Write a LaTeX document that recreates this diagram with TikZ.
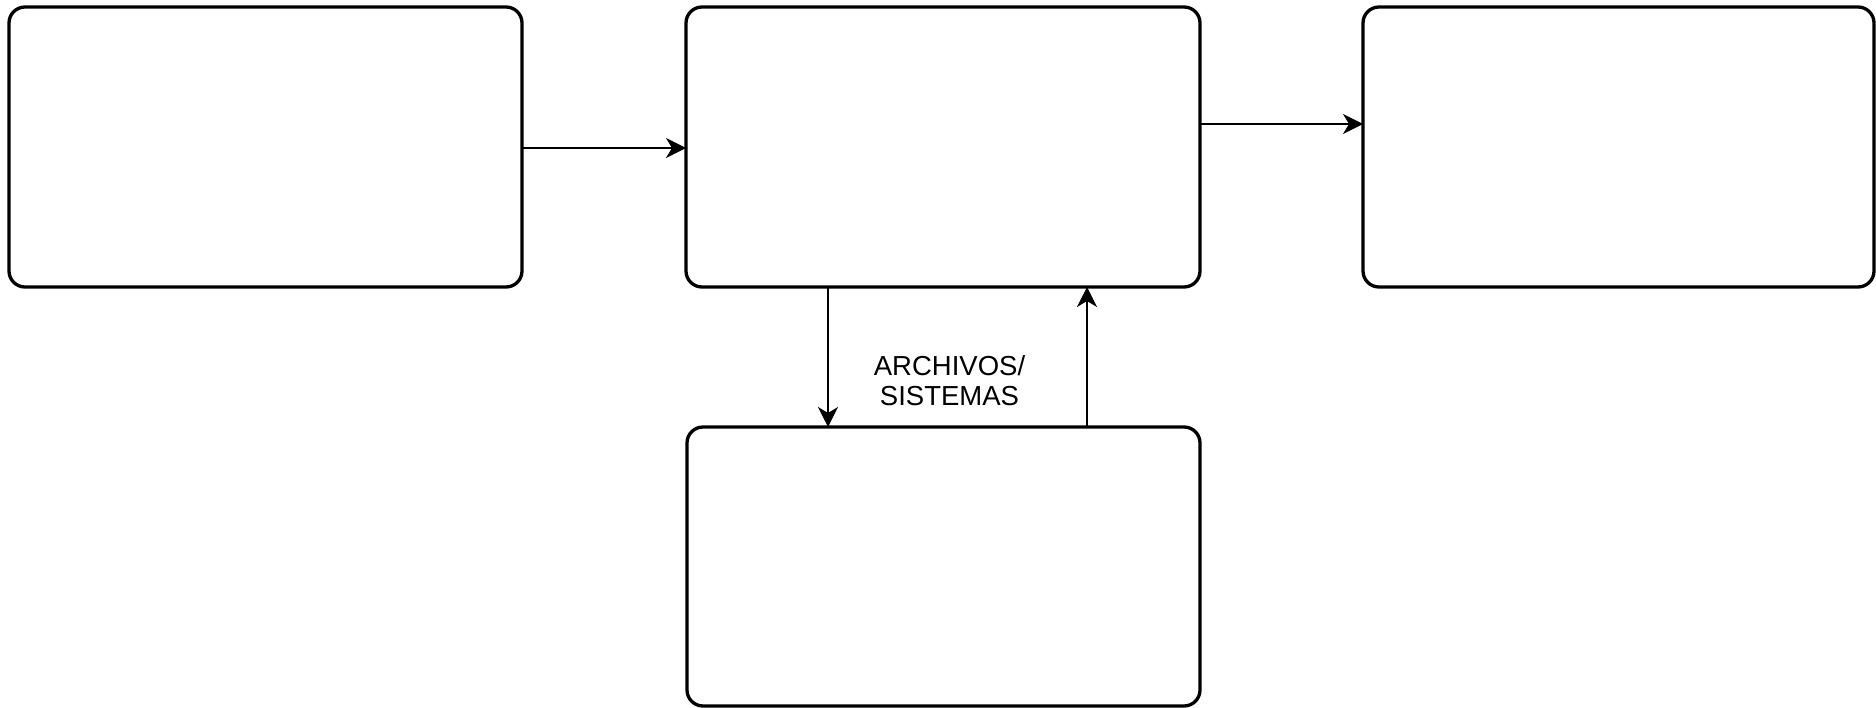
\documentclass[tikz,border=0pt]{standalone}
\usepackage{fontspec}
\setmainfont{Liberation Sans}
\usetikzlibrary{arrows.meta}
\begin{document}
\begin{tikzpicture}[x=1pt,y=-1pt,
  panel/.style={draw=black,line width=3.3pt,rounded corners=16pt,rectangle,
    minimum height=280pt,inner sep=0pt,outer sep=0pt},
  flow/.style={draw=black,line width=2pt,
    -{Stealth[length=20pt,width=20pt,inset=6pt]}}]
  \useasboundingbox (0,0) rectangle (1876,708);
  % four panels
  \node[panel,minimum width=513pt] (src) at (265.5,147) {};
  \node[panel,minimum width=514pt] (proc) at (943,147) {};
  \node[panel,minimum width=511pt] (out) at (1618.5,147) {};
  \node[panel,minimum width=513pt,minimum height=279pt] (store) at (943.5,566.5) {};
  % connectors
  \draw[flow] (src.east |- 0,148) -- (proc.west |- 0,148);
  \coordinate (pe) at ([yshift=23pt]proc.east);
  \draw[flow] (pe) -- (pe -| out.west);
  \coordinate (dn) at ([xshift=142pt]proc.south west);
  \draw[flow] (dn) -- (dn |- store.north);
  \coordinate (up) at ([xshift=400pt]store.north west);
  \draw[flow] (up) -- (up |- proc.south);
  % label between the middle panels
  \node[font=\fontsize{27.5}{30}\selectfont,align=center,inner sep=0pt] (lbl) at (949.5,381) {ARCHIVOS/\\SISTEMAS};
\end{tikzpicture}
\end{document}
